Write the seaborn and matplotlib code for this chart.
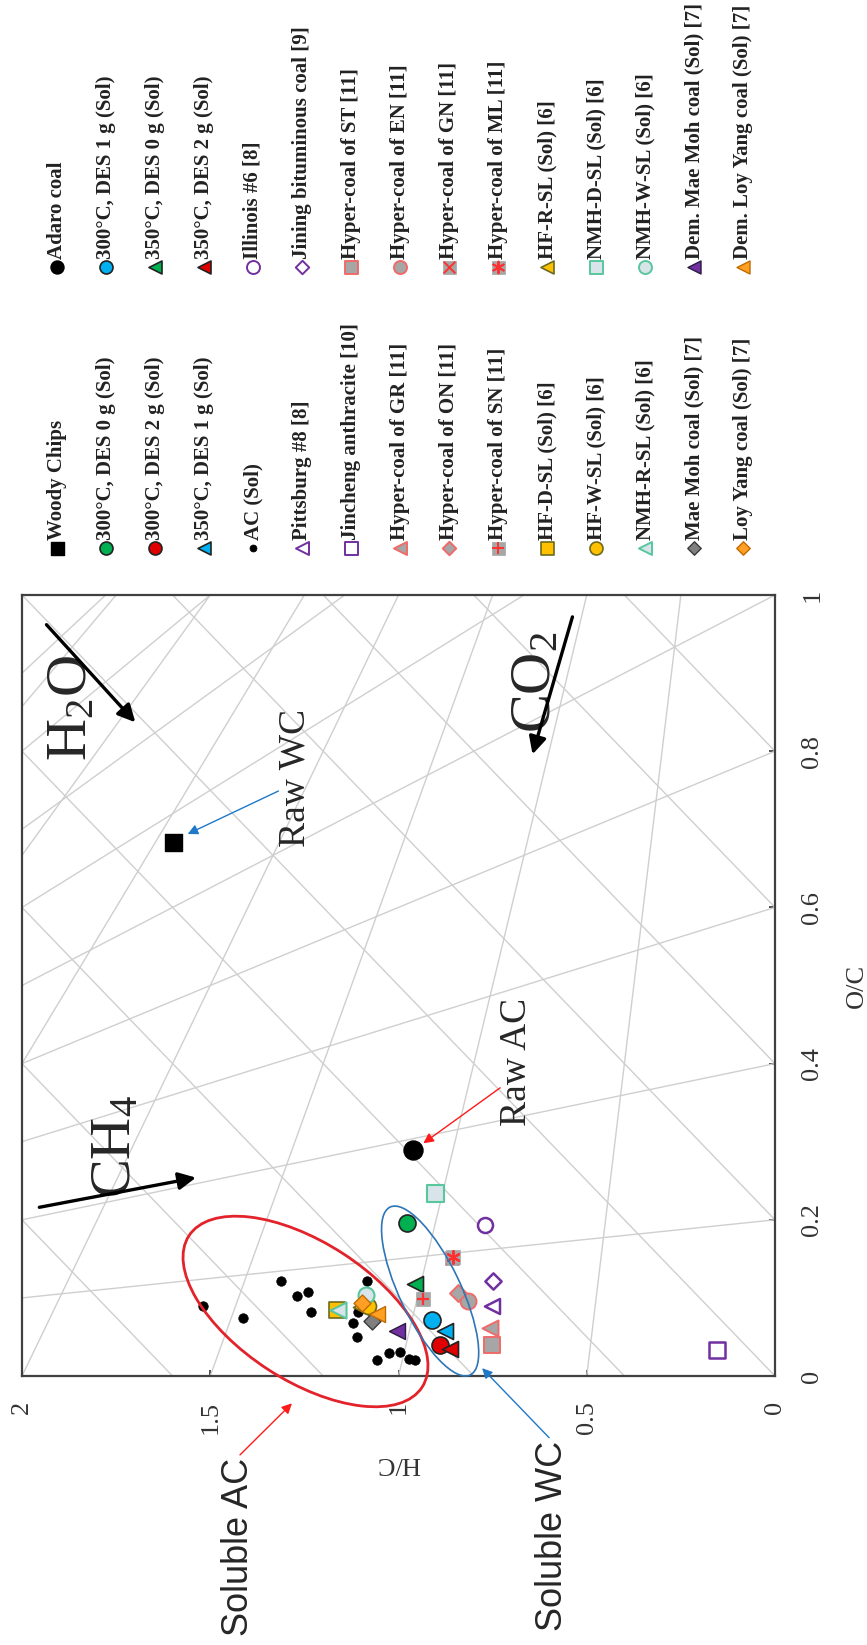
import numpy as np
import matplotlib
matplotlib.use("Agg")
import matplotlib.pyplot as plt
import seaborn as sns
from matplotlib.patches import Ellipse
from matplotlib.transforms import ScaledTranslation

# ---------------- data: (H/C, O/C) ----------------
hc_woody = [1.60];  oc_woody = [0.684]
hc_adaro = [0.961]; oc_adaro = [0.290]
hc_300_0 = [0.978]; oc_300_0 = [0.196]
hc_300_1 = [0.912]; oc_300_1 = [0.072]
hc_300_2 = [0.890]; oc_300_2 = [0.040]
hc_350_0 = [0.956]; oc_350_0 = [0.118]
hc_350_1 = [0.876]; oc_350_1 = [0.058]
hc_350_2 = [0.863]; oc_350_2 = [0.034]
hc_ac_sol = [1.518, 1.414, 1.312, 1.270, 1.240, 1.233, 1.083, 1.107,
             1.122, 1.111, 1.025, 0.996, 1.056, 0.971, 0.956]
oc_ac_sol = [0.090, 0.074, 0.122, 0.103, 0.107, 0.082, 0.122, 0.082,
             0.068, 0.050, 0.030, 0.031, 0.020, 0.022, 0.020]
hc_illinois = [0.770];  oc_illinois = [0.193]
hc_pittsburg = [0.752]; oc_pittsburg = [0.089]
hc_jining = [0.748];    oc_jining = [0.121]
hc_jincheng = [0.154];  oc_jincheng = [0.033]
hc_hc_st = [0.752]; oc_hc_st = [0.040]
hc_hc_gr = [0.757]; oc_hc_gr = [0.061]
hc_hc_en = [0.815]; oc_hc_en = [0.096]
hc_hc_on = [0.841]; oc_hc_on = [0.106]
hc_hc_gn = [0.859]; oc_hc_gn = [0.151]
hc_hc_sn = [0.934]; oc_hc_sn = [0.098]
hc_hc_ml = [0.856]; oc_hc_ml = [0.152]
hc_hf_d = [1.164]; oc_hf_d = [0.085]
hc_hf_r = [1.100]; oc_hf_r = [0.088]
hc_hf_w = [1.080]; oc_hf_w = [0.089]
hc_nmh_d = [0.903]; oc_nmh_d = [0.234]
hc_nmh_r = [1.160]; oc_nmh_r = [0.085]
hc_nmh_w = [1.085]; oc_nmh_w = [0.104]
hc_maemoh = [1.071];     oc_maemoh = [0.070]
hc_dem_maemoh = [1.005]; oc_dem_maemoh = [0.058]
hc_loyyang = [1.098];     oc_loyyang = [0.093]
hc_dem_loyyang = [1.058]; oc_dem_loyyang = [0.080]

legend_labels = [
    "Woody Chips", "Adaro coal",
    "300°C, DES 0 g (Sol)", "300°C, DES 1 g (Sol)",
    "300°C, DES 2 g (Sol)", "350°C, DES 0 g (Sol)",
    "350°C, DES 1 g (Sol)", "350°C, DES 2 g (Sol)",
    "AC (Sol)", "Illinois #6 [8]",
    "Pittsburg #8 [8]", "Jining bituminous coal [9]",
    "Jincheng anthracite [10]", "Hyper-coal of ST [11]",
    "Hyper-coal of GR [11]", "Hyper-coal of EN [11]",
    "Hyper-coal of ON [11]", "Hyper-coal of GN [11]",
    "Hyper-coal of SN [11]", "Hyper-coal of ML [11]",
    "HF-D-SL (Sol) [6]", "HF-R-SL (Sol) [6]",
    "HF-W-SL (Sol) [6]", "NMH-D-SL (Sol) [6]",
    "NMH-R-SL (Sol) [6]", "NMH-W-SL (Sol) [6]",
    "Mae Moh coal (Sol) [7]", "Dem. Mae Moh coal (Sol) [7]",
    "Loy Yang coal (Sol) [7]", "Dem. Loy Yang coal (Sol) [7]",
]

hc_ticks = [0, 0.5, 1, 1.5, 2]
hc_tick_labels = ["0", "0.5", "1", "1.5", "2"]
oc_ticks = [0, 0.2, 0.4, 0.6, 0.8, 1]
oc_tick_labels = ["0", "0.2", "0.4", "0.6", "0.8", "1"]

# guide lines of the van Krevelen diagram
h2o_offsets = [-0.8, -0.6, -0.4, -0.2, 0.0, 0.2, 0.4, 0.6, 0.8]
ch4_intercepts = [0.2, 0.4, 0.6, 0.8, 1.0, 1.2, 1.4, 1.6, 1.8, 2.0]
co2_intercepts = [0.5, 1.0, 1.5, 2.0, 2.5, 3.0, 3.5, 4.0]

# ---------------- styling ----------------
sns.set_theme(style="white")
SERIF = ["Liberation Serif", "DejaVu Serif"]
SANS = ["Liberation Sans", "DejaVu Sans"]
plt.rcParams["font.family"] = SERIF
plt.rcParams["mathtext.fontset"] = "custom"
plt.rcParams["mathtext.rm"] = "Liberation Serif"
plt.rcParams["mathtext.it"] = "Liberation Serif:italic"
plt.rcParams["mathtext.bf"] = "Liberation Serif:bold"

W, H, DPI = 867, 1645, 100
fig = plt.figure(figsize=(W / DPI, H / DPI), dpi=DPI)
fig.patch.set_facecolor("white")

lax = fig.add_axes([0, 0, 1, 1])
lax.set_xlim(0, W)
lax.set_ylim(H, 0)
lax.axis("off")

ax = fig.add_axes([22 / W, 1 - 1376 / H, 753 / W, 781 / H])
ax.set_facecolor("white")

GREEN, CYAN, RED = "#00B050", "#00B0F0", "#E00000"
PURPLE, GRAY, PINK = "#7030A0", "#A6A6A6", "#F06A6A"
GOLD, PALE, TEAL = "#FFC000", "#D8E4EA", "#58C79C"
ORANGE = "#FFA024"
DK = "#222222"

# (label, hc, oc, marker, diameter px, face, edge, lw, overlay)
series = [
    (legend_labels[0], hc_woody, oc_woody, "s", 17, "black", "black", 1.0, None),
    (legend_labels[1], hc_adaro, oc_adaro, "o", 19, "black", "black", 1.0, None),
    (legend_labels[2], hc_300_0, oc_300_0, "o", 17, GREEN, DK, 1.2, None),
    (legend_labels[3], hc_300_1, oc_300_1, "o", 17, CYAN, DK, 1.2, None),
    (legend_labels[4], hc_300_2, oc_300_2, "o", 17, RED, DK, 1.2, None),
    (legend_labels[5], hc_350_0, oc_350_0, "<", 16, GREEN, DK, 1.2, None),
    (legend_labels[6], hc_350_1, oc_350_1, "<", 16, CYAN, DK, 1.2, None),
    (legend_labels[7], hc_350_2, oc_350_2, "<", 16, RED, DK, 1.2, None),
    (legend_labels[8], hc_ac_sol, oc_ac_sol, "o", 9.5, "black", "black", 0.5, None),
    (legend_labels[9], hc_illinois, oc_illinois, "o", 15, "white", PURPLE, 1.8, None),
    (legend_labels[10], hc_pittsburg, oc_pittsburg, "<", 15, "white", PURPLE, 1.8, None),
    (legend_labels[11], hc_jining, oc_jining, "D", 11.5, "white", PURPLE, 1.8, None),
    (legend_labels[12], hc_jincheng, oc_jincheng, "s", 16, "white", PURPLE, 1.8, None),
    (legend_labels[13], hc_hc_st, oc_hc_st, "s", 16, GRAY, PINK, 1.4, None),
    (legend_labels[14], hc_hc_gr, oc_hc_gr, "<", 16, GRAY, PINK, 1.4, None),
    (legend_labels[15], hc_hc_en, oc_hc_en, "o", 16, GRAY, PINK, 1.4, None),
    (legend_labels[16], hc_hc_on, oc_hc_on, "D", 12, GRAY, PINK, 1.4, None),
    (legend_labels[17], hc_hc_gn, oc_hc_gn, "s", 14, GRAY, GRAY, 0.5, ("x", "#FF3030")),
    (legend_labels[18], hc_hc_sn, oc_hc_sn, "s", 14, GRAY, GRAY, 0.5, ("+", "#FF3030")),
    (legend_labels[19], hc_hc_ml, oc_hc_ml, "s", 14, GRAY, GRAY, 0.5, ((6, 2, 0), "#FF3030")),
    (legend_labels[20], hc_hf_d, oc_hf_d, "s", 16, GOLD, "#6B6B20", 1.2, None),
    (legend_labels[21], hc_hf_r, oc_hf_r, "<", 16, GOLD, "#6B6B20", 1.2, None),
    (legend_labels[22], hc_hf_w, oc_hf_w, "o", 16, GOLD, "#6B6B20", 1.2, None),
    (legend_labels[23], hc_nmh_d, oc_nmh_d, "s", 17, PALE, TEAL, 1.5, None),
    (legend_labels[24], hc_nmh_r, oc_nmh_r, "<", 16, PALE, TEAL, 1.5, None),
    (legend_labels[25], hc_nmh_w, oc_nmh_w, "o", 16, PALE, TEAL, 1.5, None),
    (legend_labels[26], hc_maemoh, oc_maemoh, "D", 12, "#7F7F7F", "#3A3A3A", 1.0, None),
    (legend_labels[27], hc_dem_maemoh, oc_dem_maemoh, "<", 16, PURPLE, "#2A1A40", 1.0, None),
    (legend_labels[28], hc_loyyang, oc_loyyang, "D", 12, ORANGE, "#C06A00", 1.0, None),
    (legend_labels[29], hc_dem_loyyang, oc_dem_loyyang, "<", 16, ORANGE, "#C06A00", 1.0, None),
]


def px2s(d):
    return (d * 72.0 / DPI) ** 2


# guide lines
hc_span = np.array([-0.5, 4.5])
GUIDE = "#CFCFCF"
for c in h2o_offsets:
    ax.plot(hc_span, 0.5 * hc_span + c, color=GUIDE, lw=1.0, zorder=1)
for c in ch4_intercepts:
    ax.plot(hc_span, c * (1 - hc_span / 4.0), color=GUIDE, lw=1.0, zorder=1)
for h in co2_intercepts:
    ax.plot(hc_span, 2.0 * (1 - hc_span / h), color=GUIDE, lw=1.0, zorder=1)

# data points
for i, (lab, hc, oc, m, d, fc, ec, lw, ov) in enumerate(series):
    sns.scatterplot(x=hc, y=oc, ax=ax, marker=m, s=px2s(d), color=fc,
                    edgecolor=ec, linewidth=lw, zorder=3 + i * 0.01,
                    legend=False)
    if ov is not None:
        ax.scatter(hc, oc, marker=ov[0], s=px2s(d * 0.9), color=ov[1],
                   linewidths=1.6, zorder=3.005 + i * 0.01)

# ---------------- axes ----------------
ax.set_xlim(2, 0)
ax.set_ylim(0, 1)
ax.set_xticks(hc_ticks)
ax.set_xticklabels(hc_tick_labels, rotation=90, va="top", ha="center")
ax.yaxis.tick_right()
ax.set_yticks(oc_ticks)
ax.set_yticklabels(oc_tick_labels, rotation=90, va="center", ha="left")
ax.tick_params(axis="x", direction="in", length=4.5, width=1.2, pad=18,
               labelsize=19, colors="#333333", bottom=True, top=False)
ax.tick_params(axis="y", direction="in", length=4.5, width=1.2, pad=19,
               labelsize=19, colors="#333333", right=True, left=False)
for sp in ax.spines.values():
    sp.set_color("#404040")
    sp.set_linewidth(1.6)
ax.grid(False)

ax.set_xlabel("H/C", rotation=180, fontsize=19, color="#333333", va="center", ha="center")
ax.xaxis.set_label_coords(0.5, -0.111)
ax.yaxis.set_label_position("right")
ax.set_ylabel("O/C", rotation=90, fontsize=19, color="#333333", va="center", ha="center")
ax.yaxis.set_label_coords(1.109, 0.5)

# ---------------- annotations ----------------
big = dict(rotation=90, ha="center", va="center", fontsize=42, family=SERIF, zorder=8)
ax.text(1.867, 0.855, r"H$_\mathrm{2}$O", **big)
ax.text(0.633, 0.889, r"CO$_\mathrm{2}$", **big)
ax.text(1.750, 0.294, r"CH$_\mathrm{4}$", **big)

def arrow(p0, p1, color, lw, ms):
    ax.annotate("", xy=p1, xytext=p0, annotation_clip=False,
                arrowprops=dict(arrowstyle="-|>", color=color, lw=lw,
                                mutation_scale=ms, shrinkA=0, shrinkB=0),
                zorder=9)

arrow((1.935, 0.962), (1.699, 0.837), "black", 2.4, 26)
arrow((0.538, 0.972), (0.644, 0.796), "black", 2.4, 26)
arrow((1.954, 0.216), (1.538, 0.254), "black", 2.4, 26)

mid = dict(rotation=90, ha="center", va="center", fontsize=27, family=SERIF, zorder=8)
ax.text(1.275, 0.766, "Raw WC", **mid)
ax.text(0.686, 0.402, "Raw AC", **mid)
arrow((1.319, 0.749), (1.560, 0.694), "#1F78C8", 1.0, 15)
arrow((0.730, 0.369), (0.934, 0.298), "#FF1A1A", 1.0, 15)

sol = dict(rotation=90, ha="center", va="center", fontsize=26, family=SANS, zorder=8)
ax.text(1.426, -0.219, "Soluble AC", clip_on=False, **sol)
ax.text(0.590, -0.205, "Soluble WC", clip_on=False, **sol)
arrow((1.421, -0.101), (1.283, -0.035), "#FF1A1A", 1.0, 15)
arrow((0.600, -0.079), (0.778, 0.010), "#1F78C8", 1.0, 15)


def px_ellipse(cx, cy, w_px, h_px, ang, color, lw):
    tr = fig.dpi_scale_trans + ScaledTranslation(cx, cy, ax.transData)
    e = Ellipse((0, 0), w_px / DPI, h_px / DPI, angle=ang, transform=tr,
                fill=False, edgecolor=color, lw=lw, clip_on=False, zorder=7)
    ax.add_artist(e)

px_ellipse(1.247, 0.0826, 278, 138, -33, "#E3232B", 2.0)
px_ellipse(0.916, 0.1088, 186, 61, -64.5, "#2E75B6", 1.2)

# ---------------- legend (manual, rotated layout) ----------------
row_marker_y = [548, 267]
item_x0, item_dx = 57, 49
for i, (lab, hc, oc, m, d, fc, ec, lw, ov) in enumerate(series):
    col, row = i // 2, i % 2
    x = item_x0 + item_dx * col
    y = row_marker_y[row]
    dl = min(d, 13) if m != "D" else 9.5
    if lab == "AC (Sol)":
        dl = 7
    lax.scatter([x], [y], marker=m, s=px2s(dl), color=fc, edgecolor=ec,
                linewidths=min(lw, 1.4), zorder=3)
    if ov is not None:
        lax.scatter([x], [y], marker=ov[0], s=px2s(dl * 0.9), color=ov[1],
                    linewidths=1.4, zorder=4)
    lax.text(x, y - 8, lab, rotation=90, ha="center", va="bottom",
             fontsize=15, fontweight="bold", family=SERIF, color="#222222")

fig.savefig("out.png", dpi=DPI, facecolor="white")
